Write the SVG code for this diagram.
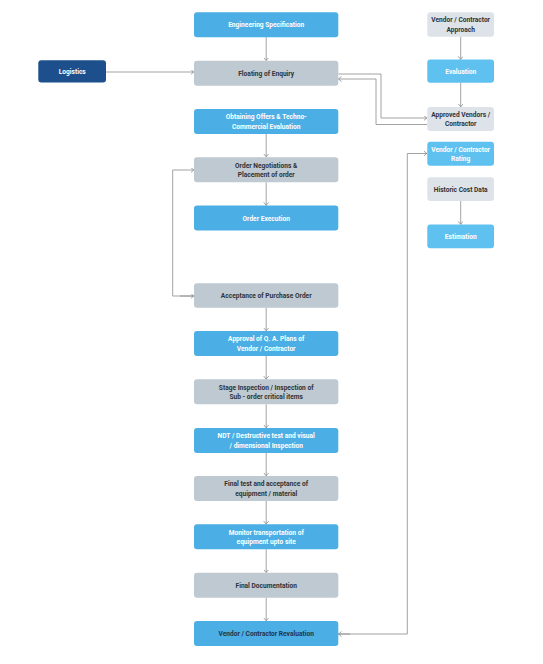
<svg xmlns="http://www.w3.org/2000/svg" width="543" height="664" viewBox="0 0 543 664">
<style>
.b{fill:#4BAEE4}
.lb{fill:#5EC1EF}
.g{fill:#BFC9D1}
.lg{fill:#DDE3E8}
.db{fill:#1D4F8C}
text{font-family:Roboto,"Liberation Sans",sans-serif;font-weight:700;font-size:7.7px;text-anchor:middle}
.w{fill:#FFFFFF}
.d{fill:#2E3338}
.n{fill:#21354D}
.c{fill:none;stroke:#8C8C8C;stroke-width:0.8}
</style>
<defs>
<marker id="a" markerUnits="userSpaceOnUse" markerWidth="6" markerHeight="6" refX="3.2" refY="2.5" orient="auto">
<path d="M0,0 L3,2.5 L0,5" fill="none" stroke="#8C8C8C" stroke-width="0.8"/>
</marker>
</defs>
<rect width="543" height="664" fill="#FFFFFF"/>
<g id="connectors">
<path class="c" d="M266.2,37.3 V60.7" marker-end="url(#a)"/>
<path class="c" d="M106,72 H194" marker-end="url(#a)"/>
<path class="c" d="M338.3,74 H381 V118 H427" marker-end="url(#a)"/>
<path class="c" d="M427,124.5 H376 V79 H338.3" marker-end="url(#a)"/>
<path class="c" d="M266.2,134 V157" marker-end="url(#a)"/>
<path class="c" d="M266.2,182.3 V205.5" marker-end="url(#a)"/>
<path class="c" d="M194,296 H172.7 V170 H194" marker-end="url(#a)"/>
<path class="c" d="M180,296 H194" marker-end="url(#a)"/>
<path class="c" d="M266.2,307.7 V331" marker-end="url(#a)"/>
<path class="c" d="M266.2,356 V379.3" marker-end="url(#a)"/>
<path class="c" d="M266.2,404.3 V428" marker-end="url(#a)"/>
<path class="c" d="M266.2,453 V476" marker-end="url(#a)"/>
<path class="c" d="M266.2,501 V524.3" marker-end="url(#a)"/>
<path class="c" d="M266.2,549.3 V572.7" marker-end="url(#a)"/>
<path class="c" d="M266.2,597.7 V621" marker-end="url(#a)"/>
<path class="c" d="M338.3,634 H407.3 V153.5 H427" marker-end="url(#a)"/>
<path class="c" d="M350,634 H338.3" marker-end="url(#a)"/>
<path class="c" d="M460.7,36.7 V59.5" marker-end="url(#a)"/>
<path class="c" d="M460.7,82.7 V107" marker-end="url(#a)"/>
<path class="c" d="M460.7,201 V224.5" marker-end="url(#a)"/>
</g>
<g id="engineering-specification"><rect class="b" x="194" y="12.3" width="144.3" height="25" rx="3"/><text class="w" x="0" y="27.5" transform="translate(266.2 0) scale(0.86 1)">Engineering Specification</text></g>
<g id="logistics"><rect class="db" x="38.3" y="60.3" width="67.7" height="22.2" rx="3"/><text class="w" x="0" y="74.1" transform="translate(72.2 0) scale(0.86 1)">Logistics</text></g>
<g id="floating-of-enquiry"><rect class="g" x="194" y="60.7" width="144.3" height="25" rx="3"/><text class="d" x="0" y="75.9" transform="translate(266.2 0) scale(0.86 1)">Floating of Enquiry</text></g>
<g id="obtaining-offers"><rect class="b" x="194" y="109" width="144.3" height="25" rx="3"/><text class="w" x="0" y="119.5" transform="translate(266.2 0) scale(0.86 1)">Obtaining Offers &amp; Techno-</text><text class="w" x="0" y="128.9" transform="translate(266.2 0) scale(0.86 1)">Commercial Evaluation</text></g>
<g id="order-negotiations"><rect class="g" x="194" y="157.3" width="144.3" height="25" rx="3"/><text class="d" x="0" y="167.8" transform="translate(266.2 0) scale(0.86 1)">Order Negotiations &amp;</text><text class="d" x="0" y="177.2" transform="translate(266.2 0) scale(0.86 1)">Placement of order</text></g>
<g id="order-execution"><rect class="b" x="194" y="205.5" width="144.3" height="25" rx="3"/><text class="w" x="0" y="220.7" transform="translate(266.2 0) scale(0.86 1)">Order Execution</text></g>
<g id="acceptance-of-purchase-order"><rect class="g" x="194" y="283.3" width="144.3" height="24.4" rx="3"/><text class="d" x="0" y="298.3" transform="translate(266.2 0) scale(0.86 1)">Acceptance of Purchase Order</text></g>
<g id="approval-qa-plans"><rect class="b" x="194" y="331" width="144.3" height="25" rx="3"/><text class="w" x="0" y="341.5" transform="translate(266.2 0) scale(0.86 1)">Approval of Q. A. Plans of</text><text class="w" x="0" y="350.9" transform="translate(266.2 0) scale(0.86 1)">Vendor / Contractor</text></g>
<g id="stage-inspection"><rect class="g" x="194" y="379.3" width="144.3" height="25" rx="3"/><text class="d" x="0" y="389.8" transform="translate(266.2 0) scale(0.86 1)">Stage Inspection / Inspection of</text><text class="d" x="0" y="399.2" transform="translate(266.2 0) scale(0.86 1)">Sub - order critical items</text></g>
<g id="ndt-inspection"><rect class="b" x="194" y="428" width="144.3" height="25" rx="3"/><text class="w" x="0" y="438.5" transform="translate(266.2 0) scale(0.86 1)">NDT / Destructive test and visual</text><text class="w" x="0" y="447.9" transform="translate(266.2 0) scale(0.86 1)">/ dimensional Inspection</text></g>
<g id="final-test"><rect class="g" x="194" y="476" width="144.3" height="25" rx="3"/><text class="d" x="0" y="486.5" transform="translate(266.2 0) scale(0.86 1)">Final test and acceptance of</text><text class="d" x="0" y="495.9" transform="translate(266.2 0) scale(0.86 1)">equipment / material</text></g>
<g id="monitor-transportation"><rect class="b" x="194" y="524.3" width="144.3" height="25" rx="3"/><text class="w" x="0" y="534.8" transform="translate(266.2 0) scale(0.86 1)">Monitor transportation of</text><text class="w" x="0" y="544.2" transform="translate(266.2 0) scale(0.86 1)">equipment upto site</text></g>
<g id="final-documentation"><rect class="g" x="194" y="572.7" width="144.3" height="25" rx="3"/><text class="d" x="0" y="587.9" transform="translate(266.2 0) scale(0.86 1)">Final Documentation</text></g>
<g id="vendor-revaluation"><rect class="b" x="194" y="621" width="144.3" height="25" rx="3"/><text class="n" x="0" y="636.2" transform="translate(266.2 0) scale(0.86 1)">Vendor / Contractor Revaluation</text></g>
<g id="vendor-approach"><rect class="lg" x="427.3" y="12.3" width="66.7" height="24.4" rx="3"/><text class="d" x="0" y="22.4" transform="translate(460.7 0) scale(0.86 1)">Vendor / Contractor</text><text class="d" x="0" y="31.8" transform="translate(460.7 0) scale(0.86 1)">Approach</text></g>
<g id="evaluation"><rect class="lb" x="427.3" y="59.5" width="66.7" height="23.2" rx="3"/><text class="w" x="0" y="73.7" transform="translate(460.7 0) scale(0.86 1)">Evaluation</text></g>
<g id="approved-vendors"><rect class="lg" x="427.3" y="107" width="66.7" height="24" rx="3"/><text class="d" x="0" y="116.9" transform="translate(460.7 0) scale(0.86 1)">Approved Vendors /</text><text class="d" x="0" y="126.3" transform="translate(460.7 0) scale(0.86 1)">Contractor</text></g>
<g id="vendor-rating"><rect class="lb" x="427.3" y="141.7" width="66.7" height="24" rx="3"/><text class="w" x="0" y="151.6" transform="translate(460.7 0) scale(0.86 1)">Vendor / Contractor</text><text class="w" x="0" y="161" transform="translate(460.7 0) scale(0.86 1)">Rating</text></g>
<g id="historic-cost-data"><rect class="lg" x="427.3" y="177.3" width="66.7" height="23.7" rx="3"/><text class="d" x="0" y="191.7" transform="translate(460.7 0) scale(0.86 1)">Historic Cost Data</text></g>
<g id="estimation"><rect class="lb" x="427.3" y="224.5" width="66.7" height="23.7" rx="3"/><text class="w" x="0" y="238.9" transform="translate(460.7 0) scale(0.86 1)">Estimation</text></g>
</svg>
